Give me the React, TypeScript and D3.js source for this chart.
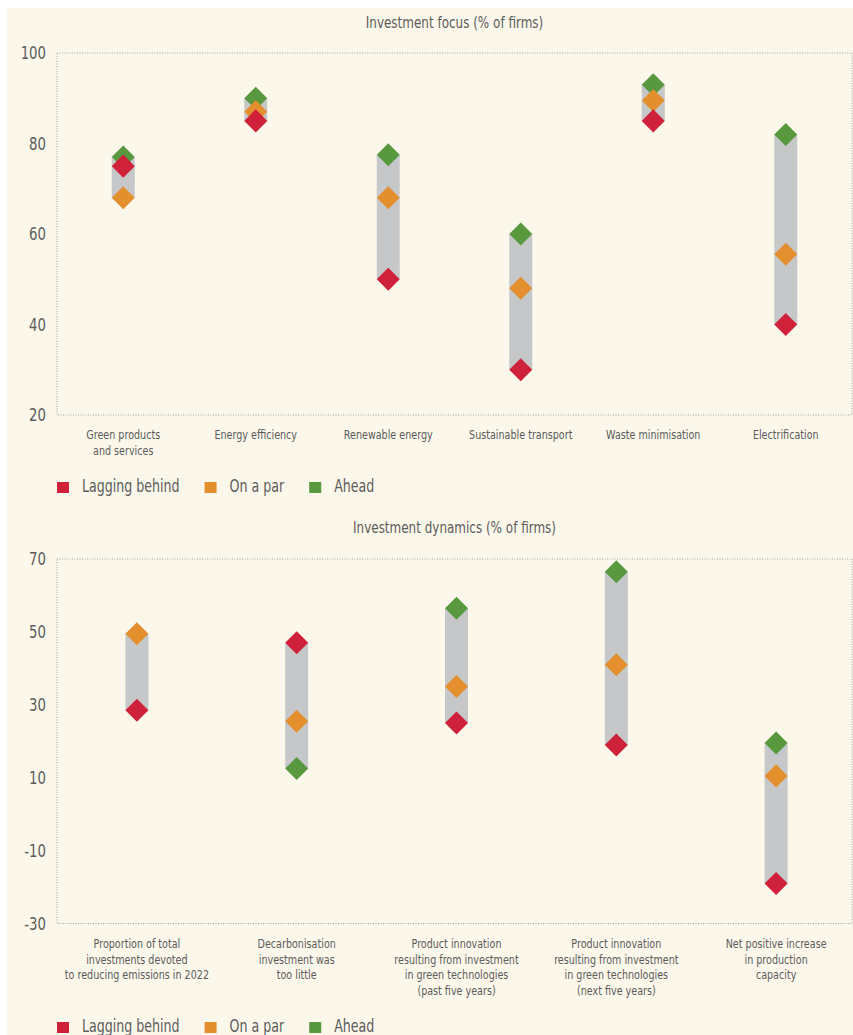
import React, { useRef, useEffect } from 'react';
import * as d3 from 'd3';

// Investment focus (% of firms)
const focusCategories = [
  ['Green products', 'and services'],
  ['Energy efficiency'],
  ['Renewable energy'],
  ['Sustainable transport'],
  ['Waste minimisation'],
  ['Electrification'],
];
const focusLagging = [75, 85, 50, 30, 85, 40];
const focusOnPar = [68, 87, 68, 48, 89.5, 55.5];
const focusAhead = [77, 90, 77.5, 60, 93, 82];
const focusTicks = [20, 40, 60, 80, 100];

// Investment dynamics (% of firms)
const dynCategories = [
  ['Proportion of total', 'investments devoted', 'to reducing emissions in 2022'],
  ['Decarbonisation', 'investment was', 'too little'],
  ['Product innovation', 'resulting from investment', 'in green technologies', '(past five years)'],
  ['Product innovation', 'resulting from investment', 'in green technologies', '(next five years)'],
  ['Net positive increase', 'in production', 'capacity'],
];
const dynLagging = [28.5, 47, 25, 19, -19];
const dynOnPar = [49.5, 25.5, 35, 41, 10.5];
const dynAhead: (number | null)[] = [null, 12.5, 56.5, 66.5, 19.5];
const dynTicks = [-30, -10, 10, 30, 50, 70];

const legendLabels = ['Lagging behind', 'On a par', 'Ahead'];

const COLORS = { lag: '#d0213b', par: '#e38f2e', ahead: '#58993f' };
const BG = '#fbf7ea';
const TEXT = '#5c5c5c';
const FONT = "'DejaVu Sans Condensed', 'Liberation Sans Narrow', sans-serif";
// the original uses a condensed face; squeeze the installed one horizontally
const SQUEEZE = 0.8;

interface PanelSpec {
  title: string;
  titleY: number;
  categories: string[][];
  lagging: (number | null)[];
  onPar: (number | null)[];
  ahead: (number | null)[];
  ticks: number[];
  top: number;
  bottom: number;
  xRight: number;
  labelY: number;
  legendY: number;
}

type Sel = d3.Selection<SVGGElement, unknown, null, undefined>;

function squeezedText(g: Sel, x: number, y: number, size: number, anchor: string, sx = SQUEEZE) {
  return g.append('text')
    .attr('transform', `translate(${x},${y}) scale(${sx},1)`)
    .attr('text-anchor', anchor)
    .attr('font-family', FONT)
    .attr('font-size', size)
    .attr('fill', TEXT);
}

export default function App() {
  const svgRef = useRef<SVGSVGElement>(null);

  useEffect(() => {
    if (!svgRef.current) return;
    const svg = d3.select(svgRef.current);
    svg.selectAll('*').remove();

    const left = 57;
    const frameRight = 852;

    svg.append('rect')
      .attr('x', 7).attr('y', 8)
      .attr('width', 853).attr('height', 1035)
      .attr('fill', BG);

    const drawPanel = (p: PanelSpec) => {
      const y = d3.scaleLinear()
        .domain([p.ticks[0], p.ticks[p.ticks.length - 1]])
        .range([p.bottom, p.top]);
      const x = d3.scaleBand<number>()
        .domain(p.categories.map((_, i) => i))
        .range([left, p.xRight]);
      const g = svg.append('g') as unknown as Sel;
      const center = (i: number) => (x(i) ?? 0) + x.bandwidth() / 2;

      // title
      squeezedText(g, (left + frameRight) / 2, p.titleY, 15.5, 'middle', 0.86).text(p.title);

      // dotted frame
      g.append('rect')
        .attr('x', left).attr('y', p.top)
        .attr('width', frameRight - left)
        .attr('height', p.bottom - p.top)
        .attr('fill', 'none')
        .attr('stroke', '#a3a3a3')
        .attr('stroke-width', 1)
        .attr('stroke-dasharray', '1,1.5');

      // y tick labels
      p.ticks.forEach((t) => {
        squeezedText(g, 46, y(t), 18, 'end', 0.82)
          .attr('dy', '0.36em')
          .text(t);
      });

      // category labels
      p.categories.forEach((lines, i) => {
        const t = squeezedText(g, center(i), p.labelY, 13, 'middle', 0.82);
        lines.forEach((line, j) => {
          t.append('tspan')
            .attr('x', 0)
            .attr('y', j * 15.7)
            .text(line);
        });
      });

      // range bars
      const barW = 23;
      p.categories.forEach((_, i) => {
        const vals = [p.lagging[i], p.onPar[i], p.ahead[i]].filter((v): v is number => v != null);
        const [lo, hi] = d3.extent(vals) as [number, number];
        g.append('rect')
          .attr('x', center(i) - barW / 2)
          .attr('y', y(hi))
          .attr('width', barW)
          .attr('height', y(lo) - y(hi))
          .attr('fill', '#c6c7c9');
      });

      // diamonds (ahead first, lagging on top)
      const diamond = d3.symbol(d3.symbolSquare, 265);
      const series: [(number | null)[], string][] = [
        [p.ahead, COLORS.ahead],
        [p.onPar, COLORS.par],
        [p.lagging, COLORS.lag],
      ];
      series.forEach(([vals, color]) => {
        vals.forEach((v, i) => {
          if (v == null) return;
          g.append('path')
            .attr('d', diamond() as string)
            .attr('transform', `translate(${center(i)},${y(v)}) rotate(45)`)
            .attr('fill', color);
        });
      });

      // legend
      const colors = [COLORS.lag, COLORS.par, COLORS.ahead];
      const legendSqueeze = 0.78;
      let lx = left;
      legendLabels.forEach((label, i) => {
        g.append('rect')
          .attr('x', lx)
          .attr('y', p.legendY - 10)
          .attr('width', 12)
          .attr('height', 11)
          .attr('fill', colors[i]);
        const t = squeezedText(g, lx + 25, p.legendY, 18, 'start', legendSqueeze).text(label);
        const w = (t.node() as SVGTextElement).getComputedTextLength() * legendSqueeze;
        lx = lx + 25 + w + 25;
      });
    };

    drawPanel({
      title: 'Investment focus (% of firms)',
      titleY: 28,
      categories: focusCategories,
      lagging: focusLagging,
      onPar: focusOnPar,
      ahead: focusAhead,
      ticks: focusTicks,
      top: 53,
      bottom: 415,
      xRight: 852,
      labelY: 439,
      legendY: 492,
    });

    drawPanel({
      title: 'Investment dynamics (% of firms)',
      titleY: 533,
      categories: dynCategories,
      lagging: dynLagging,
      onPar: dynOnPar,
      ahead: dynAhead,
      ticks: dynTicks,
      top: 559,
      bottom: 923.5,
      xRight: 856,
      labelY: 948,
      legendY: 1032,
    });
  }, []);

  return (
    <svg
      ref={svgRef}
      width={853}
      height={1035}
      style={{ position: 'absolute', left: 0, top: 0, background: '#fff' }}
    />
  );
}
